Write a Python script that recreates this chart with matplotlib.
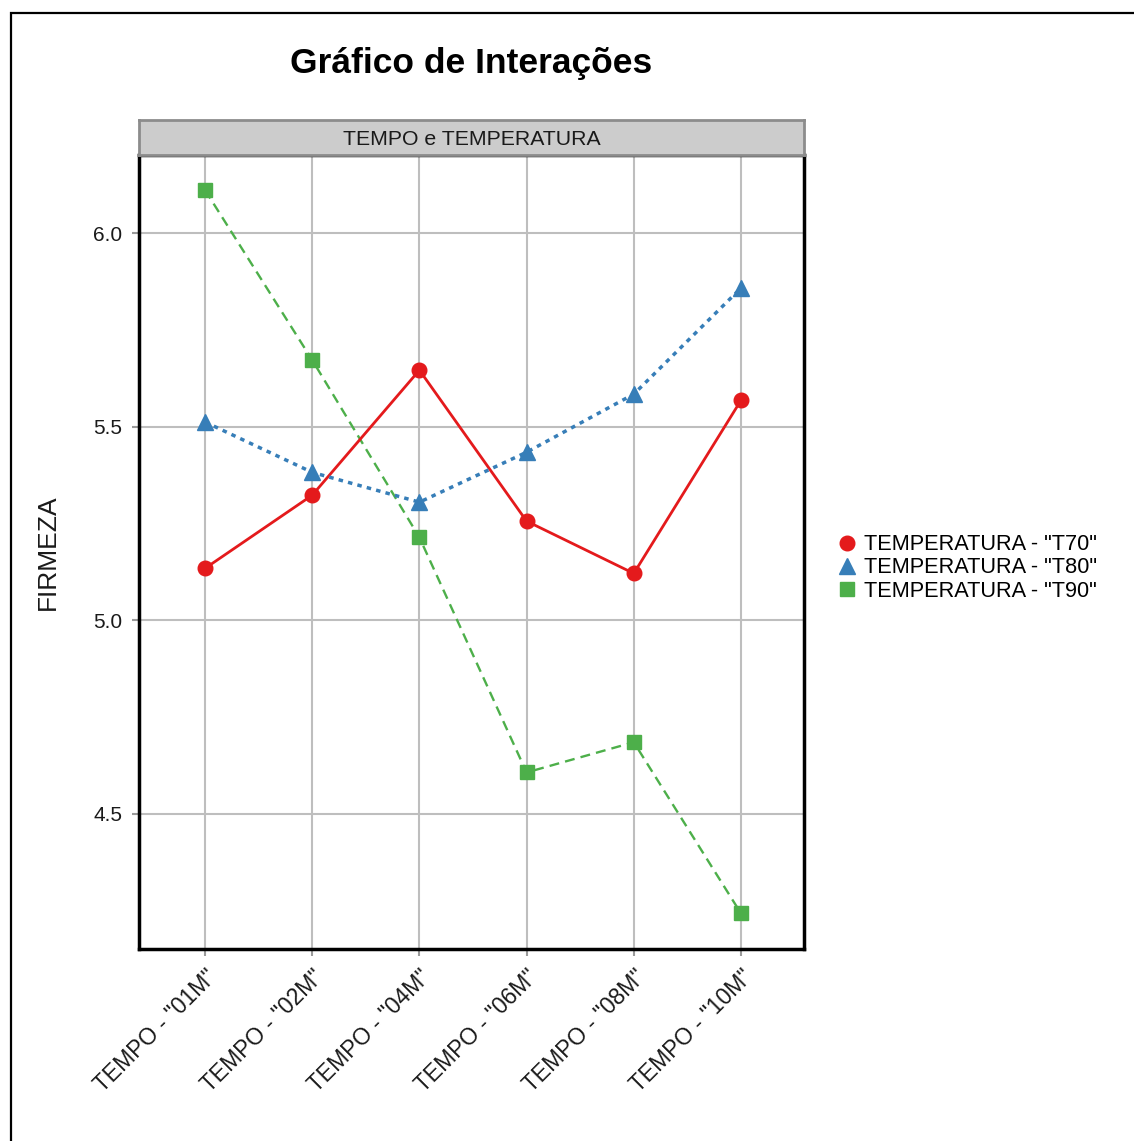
import matplotlib
matplotlib.use('Agg')
import matplotlib.pyplot as plt
from matplotlib.lines import Line2D
from matplotlib.patches import Rectangle

plt.rcParams['font.family'] = ['Liberation Sans', 'DejaVu Sans']

# Firmeza media por tempo de armazenamento e temperatura
tempos = ['TEMPO - "01M"', 'TEMPO - "02M"', 'TEMPO - "04M"',
          'TEMPO - "06M"', 'TEMPO - "08M"', 'TEMPO - "10M"']
t70 = [5.134, 5.323, 5.646, 5.256, 5.121, 5.568]
t80 = [5.512, 5.382, 5.305, 5.434, 5.584, 5.858]
t90 = [6.111, 5.672, 5.214, 4.607, 4.685, 4.243]
series_labels = ['TEMPERATURA - "T70"', 'TEMPERATURA - "T80"', 'TEMPERATURA - "T90"']
yticks = [4.5, 5.0, 5.5, 6.0]

W, H = 1134, 1141
fig = plt.figure(figsize=(W / 100, H / 100), dpi=100)

# panel area (pixel coords converted to figure fractions)
ax = fig.add_axes([139 / W, 1 - 949 / H, (804 - 139) / W, (949 - 155) / H])

x = list(range(len(tempos)))
red, blue, green = '#E41A1C', '#377EB8', '#4DAF4A'

ax.plot(x, t70, color=red, lw=2.0, ls='-', marker='o', ms=10.5, zorder=4)
ax.plot(x, t80, color=blue, lw=2.5, dashes=(1.3, 1.5), marker='^', ms=12, zorder=4)
ax.plot(x, t90, color=green, lw=1.7, dashes=(4.2, 2.6), marker='s', ms=10, zorder=3)

ax.set_xlim(-0.616, 5.588)
ax.set_ylim(4.151, 6.2016)
ax.set_xticks(x)
ax.set_xticklabels(tempos, rotation=45, ha='right', va='top', rotation_mode='anchor',
                   fontsize=16.5, color='#1a1a1a')
ax.set_yticks(yticks)
ax.set_yticklabels(['%.1f' % v for v in yticks], fontsize=15, color='#1a1a1a')
ax.tick_params(axis='both', direction='out', length=5, width=1.5, color='#9a9a9a', pad=7)

ax.grid(True, color='#bebebe', lw=1.5)
ax.set_axisbelow(True)
for sp in ax.spines.values():
    sp.set_color('black')
    sp.set_linewidth(2.5)

ax.set_ylabel('FIRMEZA', fontsize=19, color='#1a1a1a', labelpad=24)

# strip header above the panel
strip = fig.add_axes([139 / W, 1 - 155 / H, (804 - 139) / W, 35 / H])
strip.set_xticks([])
strip.set_yticks([])
strip.set_facecolor('#cccccc')
for sp in strip.spines.values():
    sp.set_color('#8c8c8c')
    sp.set_linewidth(2)
strip.text(0.5, 0.45, 'TEMPO e TEMPERATURA', ha='center', va='center', fontsize=15.3,
           color='#1a1a1a', transform=strip.transAxes)

fig.text(471 / W, 1 - 64 / H, 'Gráfico de Interações', ha='center', va='center',
         fontsize=25.5, fontweight='bold')

handles = [
    Line2D([], [], color=red, marker='o', ls='none', ms=10.5),
    Line2D([], [], color=blue, marker='^', ls='none', ms=12),
    Line2D([], [], color=green, marker='s', ls='none', ms=10),
]
fig.legend(handles, series_labels, loc='center left', bbox_to_anchor=(836 / W, 1 - 568 / H),
           frameon=False, fontsize=15.7, handlelength=1.0, handletextpad=0.3,
           labelspacing=0.1, borderpad=0, borderaxespad=0)

# outer frame of the figure
fig.patches.append(Rectangle((11 / W, -0.05), 2, 1 - 13 / H + 0.05, transform=fig.transFigure,
                             fill=False, edgecolor='black', lw=1.6))

fig.savefig('out.png', dpi=100)
